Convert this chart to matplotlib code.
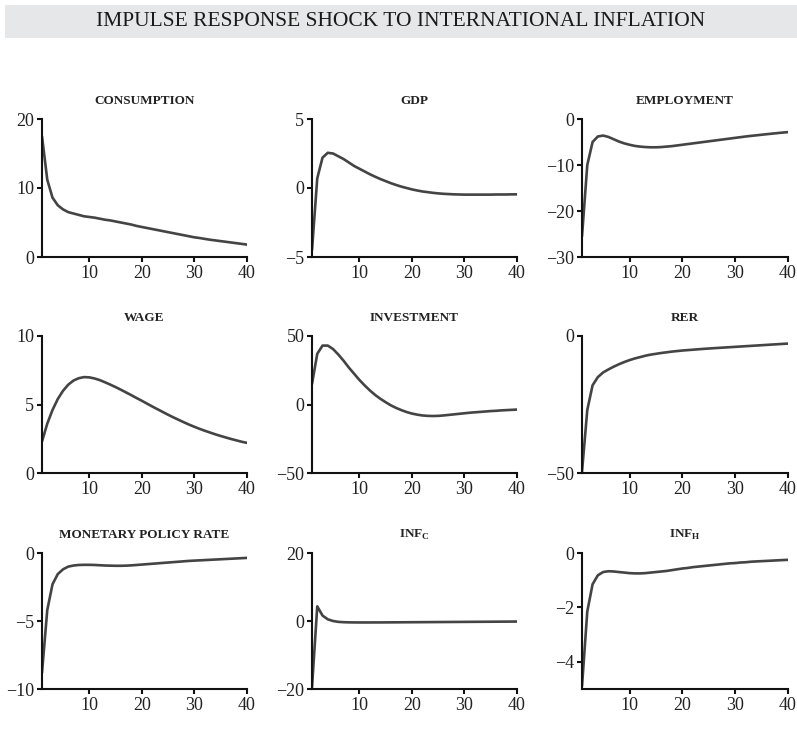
import matplotlib
matplotlib.use("Agg")
import matplotlib.pyplot as plt

plt.rcParams['font.family'] = ['Liberation Serif', 'DejaVu Serif']
plt.rcParams['mathtext.fontset'] = 'custom'
plt.rcParams['mathtext.rm'] = 'Liberation Serif'

periods = list(range(1, 41))

consumption = [17.5, 11.2, 8.6, 7.5, 6.9, 6.5, 6.3, 6.1, 5.9, 5.8,
               5.7, 5.55, 5.4, 5.3, 5.15, 5.0, 4.85, 4.7, 4.5, 4.35,
               4.2, 4.05, 3.9, 3.75, 3.6, 3.45, 3.3, 3.15, 3.0, 2.85,
               2.75, 2.62, 2.5, 2.4, 2.3, 2.2, 2.1, 2.0, 1.9, 1.8]
gdp = [-4.5, 0.7, 2.2, 2.55, 2.5, 2.3, 2.1, 1.85, 1.6, 1.4,
       1.2, 1.0, 0.82, 0.65, 0.5, 0.35, 0.22, 0.1, 0.0, -0.1,
       -0.18, -0.25, -0.3, -0.35, -0.39, -0.42, -0.44, -0.46, -0.47, -0.48,
       -0.48, -0.48, -0.48, -0.48, -0.48, -0.47, -0.47, -0.47, -0.46, -0.46]
employment = [-25.5, -10.0, -5.0, -3.8, -3.6, -3.9, -4.4, -4.9, -5.3, -5.6,
              -5.85, -6.0, -6.1, -6.15, -6.15, -6.1, -6.0, -5.9, -5.75, -5.6,
              -5.45, -5.3, -5.15, -5.0, -4.85, -4.7, -4.55, -4.4, -4.25, -4.1,
              -3.95, -3.8, -3.67, -3.55, -3.42, -3.3, -3.18, -3.06, -2.95, -2.85]
wage = [2.3, 3.6, 4.6, 5.4, 6.0, 6.45, 6.75, 6.92, 7.0, 6.98,
        6.9, 6.78, 6.62, 6.45, 6.27, 6.08, 5.88, 5.68, 5.47, 5.27,
        5.06, 4.85, 4.65, 4.45, 4.25, 4.06, 3.88, 3.7, 3.53, 3.37,
        3.22, 3.08, 2.95, 2.82, 2.7, 2.59, 2.48, 2.38, 2.28, 2.2]
investment = [15.0, 37.0, 43.0, 43.0, 40.5, 36.5, 32.0, 27.0, 22.5, 18.0,
              14.0, 10.3, 7.0, 4.2, 1.7, -0.6, -2.5, -4.1, -5.5, -6.6,
              -7.4, -8.0, -8.3, -8.4, -8.3, -8.0, -7.6, -7.2, -6.8, -6.4,
              -6.0, -5.7, -5.4, -5.1, -4.8, -4.6, -4.3, -4.1, -3.9, -3.7]
rer = [-49.5, -27.0, -18.0, -15.0, -13.3, -12.2, -11.2, -10.3, -9.5, -8.8,
       -8.2, -7.7, -7.2, -6.8, -6.5, -6.2, -5.95, -5.7, -5.5, -5.3,
       -5.15, -5.0, -4.85, -4.7, -4.57, -4.44, -4.32, -4.2, -4.08, -3.96,
       -3.84, -3.72, -3.6, -3.48, -3.36, -3.24, -3.12, -3.0, -2.88, -2.77]
policy_rate = [-8.8, -4.2, -2.3, -1.55, -1.2, -1.0, -0.92, -0.88, -0.87, -0.87,
               -0.88, -0.9, -0.92, -0.93, -0.94, -0.94, -0.93, -0.91, -0.88, -0.85,
               -0.82, -0.79, -0.76, -0.73, -0.7, -0.67, -0.64, -0.61, -0.58, -0.56,
               -0.54, -0.52, -0.5, -0.48, -0.46, -0.44, -0.42, -0.4, -0.38, -0.36]
inf_c = [-19.5, 4.3, 1.6, 0.5, 0.0, -0.25, -0.35, -0.4, -0.42, -0.43,
         -0.43, -0.43, -0.42, -0.42, -0.41, -0.4, -0.39, -0.38, -0.37, -0.36,
         -0.35, -0.34, -0.33, -0.32, -0.31, -0.3, -0.29, -0.28, -0.27, -0.26,
         -0.25, -0.24, -0.23, -0.22, -0.21, -0.2, -0.19, -0.18, -0.17, -0.16]
inf_h = [-4.9, -2.15, -1.15, -0.82, -0.7, -0.67, -0.68, -0.7, -0.72, -0.74,
         -0.75, -0.75, -0.74, -0.72, -0.7, -0.68, -0.66, -0.63, -0.6, -0.57,
         -0.55, -0.52, -0.5, -0.48, -0.46, -0.44, -0.42, -0.4, -0.38, -0.37,
         -0.35, -0.34, -0.32, -0.31, -0.3, -0.29, -0.28, -0.27, -0.26, -0.25]

titles = ["CONSUMPTION", "GDP", "EMPLOYMENT",
          "WAGE", "INVESTMENT", "RER",
          "MONETARY POLICY RATE", r"INF$_{\mathregular{C}}$", r"INF$_{\mathregular{H}}$"]
series = [consumption, gdp, employment, wage, investment, rer,
          policy_rate, inf_c, inf_h]
ylims = [(0, 20), (-5, 5), (-30, 0), (0, 10), (-50, 50), (-50, 0),
         (-10, 0), (-20, 20), (-5, 0)]
yticks = [[0, 10, 20], [-5, 0, 5], [-30, -20, -10, 0], [0, 5, 10],
          [-50, 0, 50], [-50, 0], [-10, -5, 0], [-20, 0, 20], [-4, -2, 0]]
xticks = [10, 20, 30, 40]

W, H = 797, 745
fig = plt.figure(figsize=(W / 100, H / 100), dpi=100)

# Title banner
fig.patches.append(plt.Rectangle((5 / W, 1 - 38 / H), 1 - 5 / W, 33 / H,
                                 transform=fig.transFigure, facecolor='#e6e7e8',
                                 edgecolor='none', zorder=0))
fig.text(401 / W, 1 - 21.5 / H, "IMPULSE RESPONSE SHOCK TO INTERNATIONAL INFLATION",
         ha='center', va='center', fontsize=15.5, color='#1a1a1a')

col_left = [42, 312, 582]
col_w = [205, 205, 206]
row_top = [119, 336, 553]
row_bot = [257, 473, 689]

for i in range(9):
    r, c = divmod(i, 3)
    ax = fig.add_axes([col_left[c] / W, 1 - row_bot[r] / H, col_w[c] / W,
                       (row_bot[r] - row_top[r]) / H])
    ax.plot(periods, series[i], color='#444444', lw=1.9, solid_capstyle='round')
    ax.set_xlim(1, 40)
    ax.set_ylim(*ylims[i])
    ax.set_xticks(xticks)
    ax.set_yticks(yticks[i])
    for s in ['top', 'right']:
        ax.spines[s].set_visible(False)
    for s in ['left', 'bottom']:
        ax.spines[s].set_linewidth(1.5)
        ax.spines[s].set_color('#111111')
    ax.tick_params(direction='out', length=3.5, width=1.5, labelsize=13,
                   color='#111111', labelcolor='#222222', pad=2)
    ax.set_title(titles[i], fontsize=9.5, fontweight='bold', pad=11,
                 color='#222222')

fig.savefig("out.png", dpi=100)
